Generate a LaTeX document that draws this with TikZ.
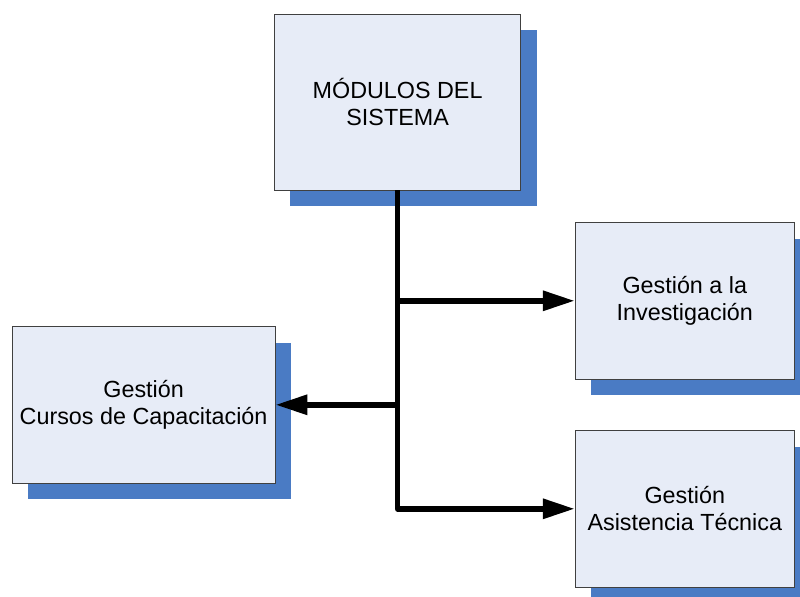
\documentclass[tikz,border=0pt]{standalone}
\usepackage{fontspec}
\setmainfont{Liberation Sans}
\usetikzlibrary{shadows,arrows.meta}
\definecolor{boxfill}{RGB}{231,236,247}
\definecolor{boxshadow}{RGB}{74,123,196}
\begin{document}
\begin{tikzpicture}[%
    every node/.style={font=\fontsize{16.6}{19}\selectfont,align=center},
    modulo/.style={draw=black!75,line width=0.6pt,fill=boxfill,
      inner sep=0pt,drop shadow={shadow xshift=0.4cm,shadow yshift=-0.4cm,
        fill=boxshadow,opacity=1}},
    conn/.style={line width=4pt,line join=round,
      -{Triangle[length=0.8cm,width=0.48cm]}}]%
  \useasboundingbox (0,0) rectangle (20,-14.925);
  \node[modulo,minimum width=6.16cm,minimum height=4.4cm] (mod) at (9.94,-2.55)
  {MÓDULOS DEL\\SISTEMA};
  \node[modulo,minimum width=5.48cm,minimum height=3.91cm] (inv) at (17.12,-7.52)
  {Gestión a la\\Investigación};
  \node[modulo,minimum width=6.57cm,minimum height=3.91cm] (cur) at (3.59,-10.12)
  {Gestión\\Cursos de Capacitación};
  \node[modulo,minimum width=5.48cm,minimum height=3.91cm] (asi) at (17.12,-12.72)
  {Gestión\\Asistencia Técnica};
  % ramas
  \draw[conn] (mod.south) |- (asi.west);
  \draw[conn] (mod.south |- inv.west) -- (inv.west);
  \draw[conn] (mod.south |- cur.east) -- (cur.east);
\end{tikzpicture}
\end{document}
